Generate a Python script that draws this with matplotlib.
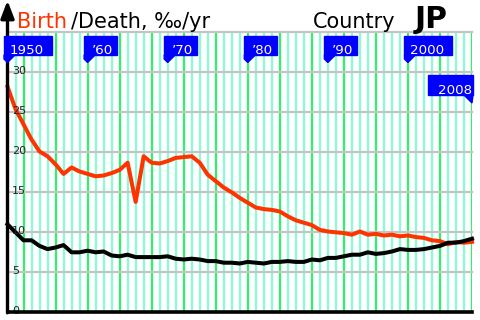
import matplotlib
matplotlib.use("Agg")
import matplotlib.pyplot as plt
from matplotlib import transforms
from matplotlib.patches import Rectangle, Polygon

years = list(range(1950, 2009))
birth = [28.1, 25.3, 23.4, 21.5, 20.0, 19.4, 18.4, 17.2, 18.0, 17.5,
         17.2, 16.9, 17.0, 17.3, 17.7, 18.6, 13.7, 19.4, 18.6, 18.5,
         18.8, 19.2, 19.3, 19.4, 18.6, 17.1, 16.3, 15.5, 14.9, 14.2,
         13.6, 13.0, 12.8, 12.7, 12.5, 11.9, 11.4, 11.1, 10.8, 10.2,
         10.0, 9.9, 9.8, 9.6, 10.0, 9.6, 9.7, 9.5, 9.6, 9.4,
         9.5, 9.3, 9.2, 8.9, 8.8, 8.4, 8.7, 8.6, 8.7]
death = [10.9, 9.9, 8.9, 8.9, 8.2, 7.8, 8.0, 8.3, 7.4, 7.4,
         7.6, 7.4, 7.5, 7.0, 6.9, 7.1, 6.8, 6.8, 6.8, 6.8,
         6.9, 6.6, 6.5, 6.6, 6.5, 6.3, 6.3, 6.1, 6.1, 6.0,
         6.2, 6.1, 6.0, 6.2, 6.2, 6.3, 6.2, 6.2, 6.5, 6.4,
         6.7, 6.7, 6.9, 7.1, 7.1, 7.4, 7.2, 7.3, 7.5, 7.8,
         7.7, 7.7, 7.8, 8.0, 8.2, 8.6, 8.6, 8.8, 9.1]
y_ticks = [0, 5, 10, 15, 20, 25, 30]
flag_years = [1950, 1960, 1970, 1980, 1990, 2000, 2008]
flag_labels = ["1950", "\u201960", "\u201970", "\u201980", "\u201990", "2000", "2008"]

RED = "#ff3300"
W, H = 480, 320

fig = plt.figure(figsize=(4.8, 3.2), dpi=100)
ax = fig.add_axes([7.5 / W, (H - 311.5) / H, (472 - 7.5) / W, 280 / H])
ax.set_xlim(1950, 2008)
ax.set_ylim(0, 35)
ax.set_xticks([])
ax.set_yticks([])
for s in ["top", "right"]:
    ax.spines[s].set_visible(False)
ax.spines["left"].set_visible(False)
ax.spines["bottom"].set_linewidth(2.6)
ax.spines["bottom"].set_zorder(6)

# year lines, olympic years brighter
for yr in years[1:]:
    c = "#2ef070" if yr % 4 == 0 else "#88fcd6"
    ax.axvline(yr, color=c, lw=1.6, zorder=1)
for v in [5, 10, 15, 20, 25, 30, 35]:
    ax.axhline(v, color="#c4c4c4", lw=1.6, zorder=1.5, clip_on=False)

ax.plot(years, birth, color=RED, lw=2.9, zorder=3, clip_on=False)
ax.plot(years, death, color="black", lw=2.9, zorder=3, clip_on=False)

lab_tr = transforms.offset_copy(ax.transData, fig, x=4.5, y=0, units="dots")
for v in y_ticks:
    ax.text(1950, v, str(v), transform=lab_tr, fontsize=8, ha="left",
            va="center", color="#222222", zorder=5)

# left axis with arrow
fig.canvas.draw()
x0, y0 = ax.transData.transform((1950, 0))
ax.annotate("", xy=(x0, H - 0.5), xytext=(x0, y0 - 1.3),
            xycoords="figure pixels", textcoords="figure pixels",
            arrowprops=dict(arrowstyle="-|>,head_length=1.05,head_width=0.4",
                            color="black", lw=2.4, shrinkA=0, shrinkB=0),
            annotation_clip=False, zorder=7)

# year flags
for yr, lab in zip(flag_years, flag_labels):
    tx, _ = ax.transData.transform((yr, 0))
    if yr == 2008:
        top, bot = H - 75, H - 95
        left, right = tx - 44, tx + 1
        tri = [(tx - 8, bot), (right, bot), (tx, bot - 8)]
        textx, ha = right - 1, "right"
    else:
        top, bot = H - 36, H - 55
        wid = 48 if lab[0] != "\u2019" else 33
        left, right = tx - 3.5, tx - 3.5 + wid
        tri = [(left, bot), (left + 11, bot), (tx, bot - 7.5), (left, bot - 4)]
        textx, ha = (left + right) / 2 + (2 if wid == 33 else -1), "center"
    fig.patches.append(Rectangle((left, bot), right - left, top - bot,
                                 transform=None, color="#0000ff", zorder=8))
    fig.patches.append(Polygon(tri, closed=True, transform=None,
                               color="#0000ff", zorder=8))
    fig.text(textx / W, (bot + 0.5) / H, lab, color="white", fontsize=9.6,
             ha=ha, va="baseline", zorder=9)

base = (H - 28.5) / H
fig.text(17 / W, base, "Birth", color=RED, fontsize=15, va="baseline")
fig.text(71 / W, base, "/Death, \u2030/yr", color="black", fontsize=15,
         va="baseline")
fig.text(313 / W, base, "Country", color="black", fontsize=15, va="baseline")
fig.text(415 / W, base, "JP", color="black", fontsize=21.5,
         fontweight="bold", va="baseline")

fig.savefig("out.png", dpi=100)
